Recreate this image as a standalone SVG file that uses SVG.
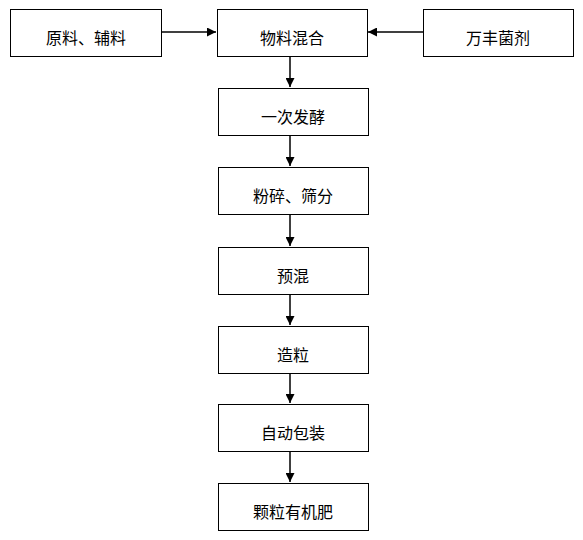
<svg xmlns="http://www.w3.org/2000/svg" width="583" height="540" viewBox="0 0 583 540">
<style>
.box{fill:#fff;stroke:#000;stroke-width:1}
.t{font-family:"Noto Sans CJK SC","Microsoft YaHei",sans-serif;font-size:16px;fill:#000;text-anchor:middle;dominant-baseline:central}
.c{stroke:#000;stroke-width:1.5;fill:none;marker-end:url(#ah)}
</style>
<defs>
<marker id="ah" viewBox="0 0 10 10" refX="10" refY="5" markerWidth="6" markerHeight="6" markerUnits="strokeWidth" orient="auto">
<path d="M0,0 L10,5 L0,10 z" fill="#000"/>
</marker>
</defs>
<rect width="583" height="540" fill="#fff"/>
<g id="connectors">
<line class="c" x1="161" y1="32" x2="216" y2="32"/>
<line class="c" x1="423" y1="32" x2="368" y2="32"/>
<line class="c" x1="290" y1="56" x2="290" y2="87"/>
<line class="c" x1="290" y1="135" x2="290" y2="166"/>
<line class="c" x1="290" y1="214" x2="290" y2="246"/>
<line class="c" x1="290" y1="294" x2="290" y2="325"/>
<line class="c" x1="290" y1="373" x2="290" y2="403"/>
<line class="c" x1="290" y1="451" x2="290" y2="482"/>
</g>
<g id="n_raw"><rect class="box" x="10.5" y="9.5" width="151" height="47"/><text class="t" x="86" y="37">原料、辅料</text></g>
<g id="n_mix"><rect class="box" x="217.5" y="9.5" width="150" height="47"/><text class="t" x="292" y="37">物料混合</text></g>
<g id="n_bac"><rect class="box" x="423.5" y="9.5" width="150" height="47"/><text class="t" x="498" y="37">万丰菌剂</text></g>
<g id="n_ferm"><rect class="box" x="218.5" y="88.5" width="150" height="47"/><text class="t" x="293" y="116">一次发酵</text></g>
<g id="n_crush"><rect class="box" x="218.5" y="167.5" width="150" height="47"/><text class="t" x="293" y="195">粉碎、筛分</text></g>
<g id="n_pre"><rect class="box" x="218.5" y="247.5" width="150" height="47"/><text class="t" x="293" y="275">预混</text></g>
<g id="n_gran"><rect class="box" x="218.5" y="326.5" width="150" height="47"/><text class="t" x="293" y="354">造粒</text></g>
<g id="n_pack"><rect class="box" x="218.5" y="404.5" width="150" height="47"/><text class="t" x="293" y="432">自动包装</text></g>
<g id="n_prod"><rect class="box" x="218.5" y="483.5" width="150" height="47"/><text class="t" x="293" y="511">颗粒有机肥</text></g>
</svg>
